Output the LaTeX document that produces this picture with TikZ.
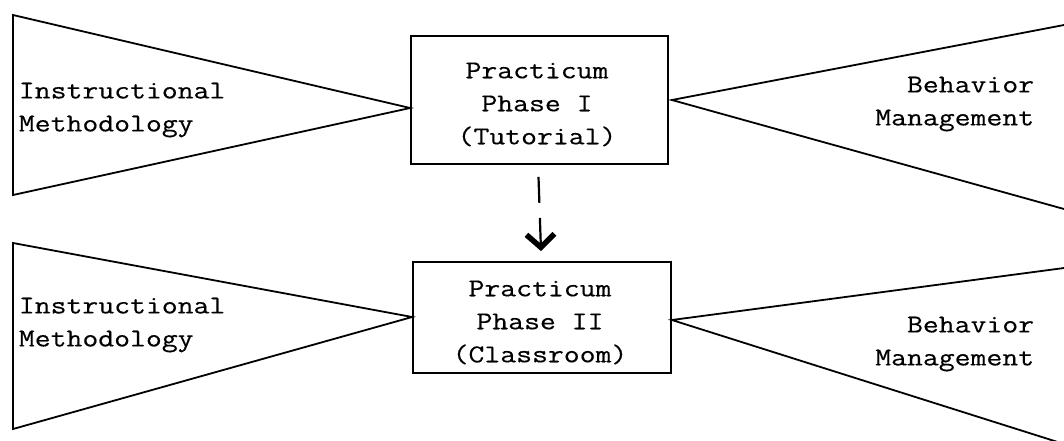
\documentclass[tikz,border=0pt]{standalone}
\usepackage{fontspec}
\setmonofont[FakeStretch=1.2,FakeBold=0.4]{Latin Modern Mono}
\usetikzlibrary{arrows.meta}
\begin{document}
\begin{tikzpicture}[x=1pt,y=-1pt,
  every path/.style={line width=1.8pt},
  lbl/.style={font=\ttfamily\fontsize{25.7}{33}\selectfont, inner sep=0pt},
  phasebox/.style={draw, line width=1.8pt, inner sep=0pt, rectangle},
  wedge/.style={draw, line width=1.8pt, line join=miter}]
\useasboundingbox (0,0) rectangle (1064,440);
% ---------- top row ----------
\node[phasebox, minimum width=257pt, minimum height=128pt] (box1) at (539.5,100) {};
\node[lbl, align=center] (t1) at (537,104.5) {Practicum\\Phase I\\(Tutorial)};
\coordinate (l1a) at (13,15);
\coordinate (l1b) at (13,195);
\coordinate (l1c) at (box1.west |- 0,108);
\draw[wedge] (l1a) -- (l1c) -- (l1b) -- cycle;
\node[lbl, align=left, anchor=west] (im1) at (18,110) {Instructional\\Methodology};
\coordinate (r1c) at (box1.east |- 0,100);
\coordinate (r1a) at (1064,25);
\coordinate (r1b) at (1064,209);
\draw[wedge] (r1a) -- ([xshift=3pt]r1c) -- (r1b);
\node[lbl, align=right, anchor=east] (bm1) at (1035,104) {Behavior\\Management};
% ---------- bottom row ----------
\node[phasebox, minimum width=258pt, minimum height=111pt] (box2) at (542,317.5) {};
\node[lbl, align=center] (t2) at (540,322.5) {Practicum\\Phase II\\(Classroom)};
\coordinate (l2a) at (13,243);
\coordinate (l2b) at (13,429);
\coordinate (l2c) at (box2.west |- 0,317);
\draw[wedge] (l2a) -- (l2c) -- (l2b) -- cycle;
\node[lbl, align=left, anchor=west] (im2) at (18,325) {Instructional\\Methodology};
\coordinate (r2c) at (box2.east |- 0,320);
\coordinate (r2a) at (1064,268);
\coordinate (r2b) at (1064,444);
\draw[wedge] (r2a) -- (r2c) -- (r2b);
\node[lbl, align=right, anchor=east] (bm2) at (1035,344) {Behavior\\Management};
% ---------- arrow ----------
\draw[line width=2.2pt, dash pattern=on 26pt off 15pt on 60pt,
  -{Straight Barb[length=13pt,width=28pt,line width=5.5pt]}]
  ([xshift=-1pt,yshift=-12pt]box1.south) -- ([xshift=-1pt,yshift=10pt]box2.north);
\end{tikzpicture}
\end{document}
